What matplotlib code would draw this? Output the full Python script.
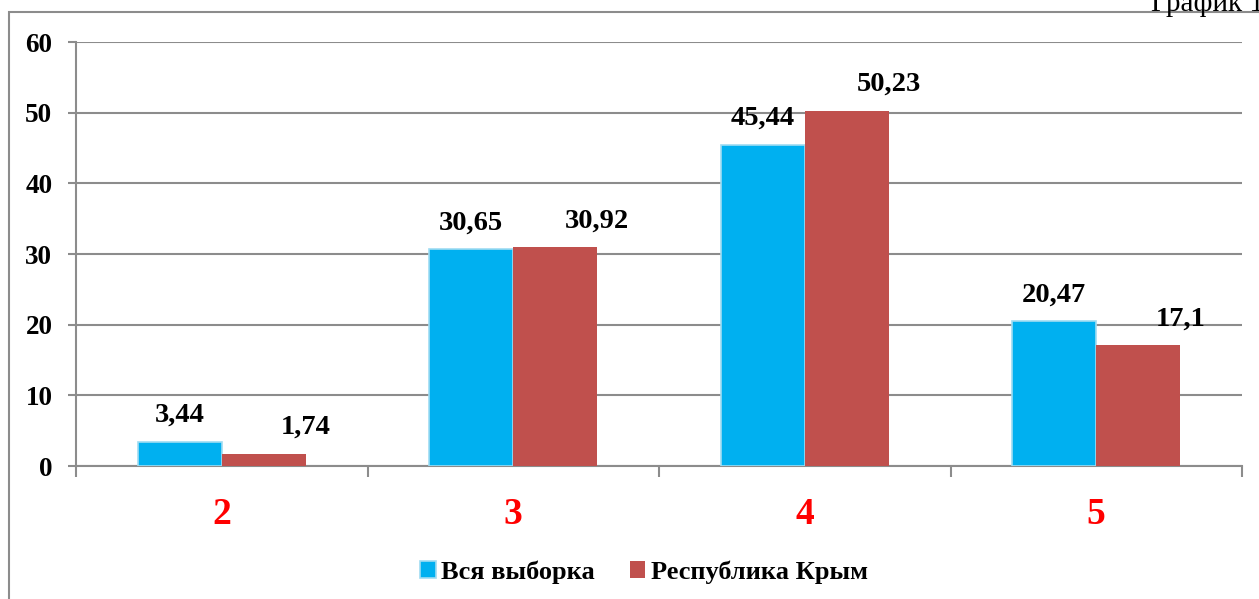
import matplotlib
matplotlib.use("Agg")
import matplotlib.pyplot as plt
from matplotlib.patches import Rectangle
import numpy as np

# данные с графика
categories = ["2", "3", "4", "5"]
vse_vyborka = [3.44, 30.65, 45.44, 20.47]
krym = [1.74, 30.92, 50.23, 17.1]
vse_labels = ["3,44", "30,65", "45,44", "20,47"]
krym_labels = ["1,74", "30,92", "50,23", "17,1"]
series_names = ["Вся выборка", "Республика Крым"]
y_ticks = [0, 10, 20, 30, 40, 50, 60]

BLUE = "#00B0F0"
RED = "#C0504D"
GRID = "#8c8c8c"

plt.rcParams["font.family"] = ["Liberation Serif", "DejaVu Serif"]
plt.rcParams["font.weight"] = "bold"

fig = plt.figure(figsize=(12.59, 5.99), dpi=100)
ax = fig.add_axes([76 / 1259, 1 - 466 / 599, (1242 - 76) / 1259, (466 - 42) / 599])

# рамка вокруг диаграммы (уходит за край картинки)
fig.patches.append(Rectangle((9 / 1259, -0.1), 1.2, 1.1 - 12 / 599,
                             transform=fig.transFigure, fill=False,
                             edgecolor="#8c8c8c", linewidth=1.5))
fig.text(1264 / 1259, 1 - 11 / 599, "График 1", ha="right", va="baseline",
         fontsize=21, fontweight="normal")

x = np.arange(len(categories))
w = 0.288
b1 = ax.bar(x - w / 2, vse_vyborka, w, color=BLUE, edgecolor="#9fdcf2",
            linewidth=1.2, label=series_names[0], zorder=3)
b2 = ax.bar(x + w / 2, krym, w, color=RED, linewidth=0,
            label=series_names[1], zorder=3)

for rect, txt in zip(b1, vse_labels):
    ax.annotate(txt, (rect.get_x() + rect.get_width() / 2, rect.get_height()),
                xytext=(0, 19), textcoords="offset points", ha="center",
                va="center", fontsize=20.5, fontweight="bold")
for rect, txt in zip(b2, krym_labels):
    ax.annotate(txt, (rect.get_x() + rect.get_width(), rect.get_height()),
                xytext=(0, 19), textcoords="offset points", ha="center",
                va="center", fontsize=20.5, fontweight="bold")

ax.set_xlim(-0.5, len(categories) - 0.5)
ax.set_ylim(0, 60)
ax.set_yticks(y_ticks)
ax.set_yticklabels([str(t) for t in y_ticks], fontsize=19.5, fontweight="bold")
ax.yaxis.grid(True, color=GRID, linewidth=1.5, zorder=0)
ax.tick_params(axis="y", length=6, width=1.5, color=GRID, pad=11)

ax.set_xticks(x)
ax.set_xticklabels(categories, fontsize=27, fontweight="bold", color="#ff0000")
ax.set_xticks(np.arange(len(categories) + 1) - 0.5, minor=True)
ax.tick_params(axis="x", which="major", length=0, pad=22)
ax.tick_params(axis="x", which="minor", length=8, width=1.5, color=GRID)

for s in ["top", "right"]:
    ax.spines[s].set_visible(False)
for s in ["left", "bottom"]:
    ax.spines[s].set_color(GRID)
    ax.spines[s].set_linewidth(1.5)

fig.legend(loc="center", bbox_to_anchor=(644 / 1259, 1 - 572 / 599), ncol=2,
           frameon=False, handlelength=0.6, handleheight=0.6, handletextpad=0.2,
           columnspacing=1.3, prop={"size": 19, "weight": "bold"})

fig.savefig("out.png", dpi=100)
